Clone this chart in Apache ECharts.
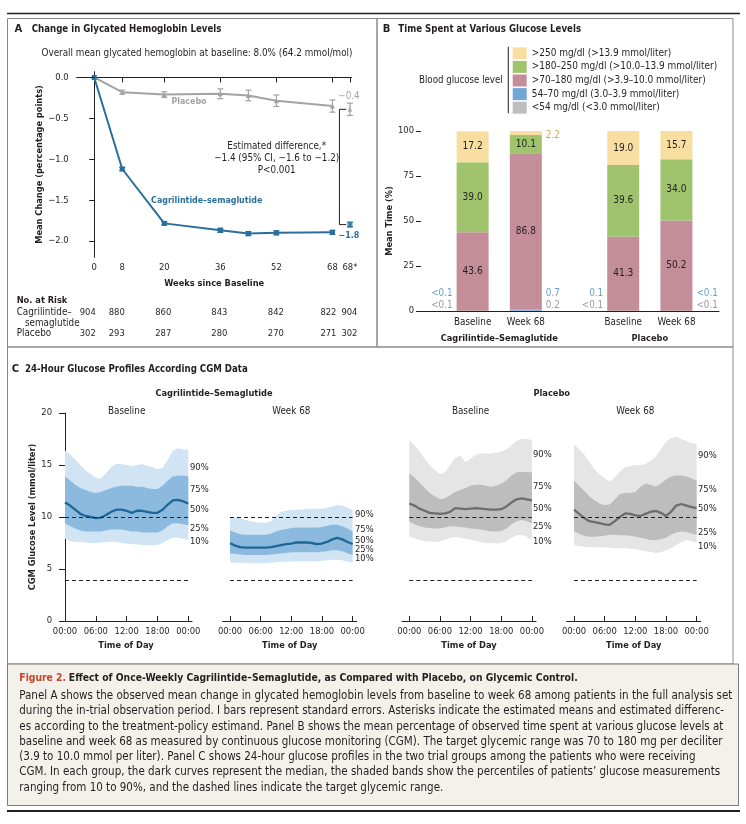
<!DOCTYPE html>
<html><head><meta charset="utf-8">
<script src="https://cdn.jsdelivr.net/npm/echarts@6/dist/echarts.min.js"></script>
<style>html,body{margin:0;padding:0;background:#fff;}#c{width:746px;height:824px;}</style>
</head><body><div id="c"></div>
<script>
// ---------------- Panel A data ----------------
const weeks = [0, 8, 20, 36, 44, 52, 68];
const weekTicks = [0, 8, 20, 36, 52, 68, 73];
const weekTickLabels = ['0', '8', '20', '36', '52', '68', '68*'];
const estWeek = 73;
const placeboMean = [0, -0.18, -0.21, -0.20, -0.22, -0.285, -0.35];
const placeboSE = [0, 0.025, 0.035, 0.06, 0.065, 0.07, 0.075];
const cagMean = [0, -1.12, -1.785, -1.87, -1.91, -1.90, -1.895];
const cagSE = [0, 0.02, 0.02, 0.025, 0.025, 0.025, 0.025];
const placeboEst = -0.39, placeboEstSE = 0.075;
const cagEst = -1.80, cagEstSE = 0.03;
const riskCag = [904, 880, 860, 843, 842, 822, 904];
const riskPlacebo = [302, 293, 287, 280, 270, 271, 302];

// ---------------- Panel B data ----------------
const barCats = ['Baseline', 'Week 68', 'Baseline', 'Week 68'];
const glucoseLevels = ['<54 mg/dl (<3.0 mmol/liter)', '54\u201370 mg/dl (3.0\u20133.9 mmol/liter)',
  '>70\u2013180 mg/dl (>3.9\u201310.0 mmol/liter)', '>180\u2013250 mg/dl (>10.0\u201313.9 mmol/liter)',
  '>250 mg/dl (>13.9 mmol/liter)'];
const pctBelow54 = [0.05, 0.2, 0.05, 0.05];
const pct54to70 = [0.05, 0.7, 0.1, 0.05];
const pct70to180 = [43.6, 86.8, 41.3, 50.2];
const pct180to250 = [39.0, 10.1, 39.6, 34.0];
const pctAbove250 = [17.2, 2.2, 19.0, 15.7];
const lblBelow54 = ['<0.1', '0.2', '<0.1', '<0.1'];
const lbl54to70 = ['<0.1', '0.7', '0.1', '<0.1'];

// ---------------- Panel C data (hourly, mmol/liter) ----------------
const hours = [0,1,2,3,4,5,6,7,8,9,10,11,12,13,14,15,16,17,18,19,20,21,22,23,24];
const cagBase90 = [16.4,16.0,15.5,15.0,14.5,14.1,13.8,13.7,14.2,14.8,15.1,15.1,15.0,14.9,15.0,15.1,14.9,14.8,14.6,14.7,15.5,16.4,16.6,16.5,16.5];
const cagBase75 = [13.9,13.5,13.1,12.8,12.6,12.4,12.3,12.4,12.6,12.8,12.9,13.0,13.0,13.0,12.9,12.9,12.8,12.7,12.7,13.0,13.5,13.9,14.0,14.0,13.9];
const cagBase50 = [11.4,11.1,10.7,10.3,10.1,10.0,9.9,9.95,10.2,10.5,10.7,10.7,10.6,10.4,10.6,10.6,10.5,10.4,10.4,10.7,11.2,11.6,11.65,11.5,11.3];
const cagBase25 = [9.4,9.1,8.9,8.7,8.6,8.6,8.6,8.6,8.7,8.8,8.8,8.8,8.7,8.6,8.6,8.5,8.5,8.5,8.5,8.7,9.1,9.4,9.4,9.3,9.2];
const cagBase10 = [7.9,7.7,7.6,7.6,7.55,7.5,7.5,7.55,7.6,7.65,7.6,7.5,7.45,7.4,7.35,7.3,7.3,7.25,7.3,7.5,7.8,8.0,8.0,7.9,7.8];
const cagWk90 = [10.0,9.95,9.9,9.7,9.6,9.5,9.45,9.45,9.6,10.1,10.5,10.6,10.7,10.7,10.7,10.8,10.8,10.8,10.8,10.9,11.0,11.15,11.1,10.9,10.7];
const cagWk75 = [8.7,8.5,8.35,8.3,8.3,8.3,8.3,8.3,8.4,8.6,8.75,8.85,8.95,9.0,9.0,9.0,9.0,9.0,9.05,9.15,9.25,9.25,9.1,8.9,8.6];
const cagWk50 = [7.47,7.25,7.1,7.05,7.05,7.05,7.05,7.05,7.1,7.2,7.3,7.4,7.45,7.55,7.55,7.55,7.5,7.4,7.45,7.6,7.85,8.0,7.85,7.6,7.4];
const cagWk25 = [6.5,6.45,6.4,6.35,6.35,6.35,6.35,6.35,6.4,6.45,6.5,6.55,6.6,6.6,6.6,6.6,6.6,6.6,6.65,6.7,6.8,6.8,6.7,6.5,6.35];
const cagWk10 = [5.65,5.6,5.6,5.6,5.55,5.55,5.55,5.55,5.6,5.65,5.7,5.7,5.75,5.75,5.75,5.75,5.75,5.75,5.8,5.85,5.9,5.9,5.85,5.7,5.6];
const pboBase90 = [17.4,16.9,16.3,15.6,15.0,14.5,14.1,14.3,15.0,15.7,15.9,15.3,15.6,16.0,16.1,16.1,16.1,16.2,16.3,16.5,16.9,17.3,17.5,17.5,17.4];
const pboBase75 = [14.2,13.8,13.3,12.8,12.3,12.0,11.7,11.8,12.1,12.4,12.6,12.8,13.0,13.1,13.1,13.0,12.9,13.0,13.2,13.5,14.0,14.3,14.35,14.3,14.3];
const pboBase50 = [11.3,11.1,10.8,10.6,10.4,10.35,10.3,10.35,10.5,10.85,10.8,10.75,10.8,10.85,10.8,10.75,10.7,10.7,10.75,11.0,11.4,11.7,11.8,11.7,11.6];
const pboBase25 = [9.55,9.3,9.1,9.0,8.95,8.9,8.9,9.0,9.1,9.1,9.05,9.0,8.9,8.85,8.8,8.7,8.6,8.6,8.65,8.9,9.3,9.6,9.7,9.6,9.4];
const pboBase10 = [8.1,7.95,7.8,7.7,7.65,7.6,7.65,7.8,8.0,8.1,8.0,7.9,7.8,7.7,7.6,7.5,7.5,7.45,7.5,7.7,8.0,8.25,8.3,8.1,7.8];
const pboWk90 = [17.0,16.5,16.0,15.3,14.6,14.1,13.7,13.4,13.8,14.4,14.8,14.9,15.0,15.0,15.1,15.4,15.8,16.5,17.2,17.6,17.7,17.5,17.3,17.1,17.0];
const pboWk75 = [13.5,13.0,12.5,12.0,11.6,11.3,11.15,11.2,11.7,12.2,12.3,12.3,12.4,12.9,13.2,13.1,12.9,13.2,13.6,13.9,14.0,14.0,13.9,13.7,13.5];
const pboWk50 = [10.7,10.3,9.9,9.6,9.5,9.4,9.3,9.25,9.6,10.0,10.35,10.3,10.15,10.1,10.3,10.5,10.6,10.4,10.1,10.5,11.1,11.25,11.1,10.95,10.85];
const pboWk25 = [8.6,8.4,8.2,8.1,8.1,8.15,8.2,8.3,8.3,8.25,8.25,8.2,8.1,8.0,7.9,7.8,7.8,7.85,8.0,8.3,8.5,8.6,8.55,8.4,8.3];
const pboWk10 = [7.25,7.2,7.15,7.1,7.1,7.1,7.1,7.05,7.0,7.0,7.0,6.95,6.9,6.8,6.7,6.65,6.55,6.6,6.8,7.0,7.3,7.6,7.8,7.7,7.5];
const hourTicks = [0, 6, 12, 18, 24];
const targetLow = 3.9, targetHigh = 10.0;
const pctNames = ['90%', '75%', '50%', '25%', '10%'];

// ---------------- Caption ----------------
const captionTag = 'Figure 2.';
const captionHead = 'Effect of Once-Weekly Cagrilintide\u2013Semaglutide, as Compared with Placebo, on Glycemic Control.';
const captionLines = [
 'Panel A shows the observed mean change in glycated hemoglobin levels from baseline to week 68 among patients in the full analysis set',
 'during the in-trial observation period. I bars represent standard errors. Asterisks indicate the estimated means and estimated differenc-',
 'es according to the treatment-policy estimand. Panel B shows the mean percentage of observed time spent at various glucose levels at',
 'baseline and week 68 as measured by continuous glucose monitoring (CGM). The target glycemic range was 70 to 180 mg per deciliter',
 '(3.9 to 10.0 mmol per liter). Panel C shows 24-hour glucose profiles in the two trial groups among the patients who were receiving',
 'CGM. In each group, the dark curves represent the median, the shaded bands show the percentiles of patients\u2019 glucose measurements',
 'ranging from 10 to 90%, and the dashed lines indicate the target glycemic range.'
];

// ================= rendering =================
const FF = "'Liberation Sans Narrow','DejaVu Sans Condensed','Roboto Condensed','Liberation Sans',Arial,sans-serif";
const INK = '#231f20';
const BLUE = '#2a6f9c', GREY = '#a3a3a3';
const mctx = document.createElement('canvas').getContext('2d');
function measure(t, bold, size) { mctx.font = (bold ? 'bold ' : '') + size + 'px ' + FF; return mctx.measureText(t).width; }
const subA = 'Overall mean glycated hemoglobin at baseline: 8.0% (64.2 mmol/mol)';
const kR = Math.min(1.25, Math.max(0.8, 311 / measure(subA, false, 11)));
const kB = Math.min(1.25, Math.max(0.8, 187 / measure('Change in Glycated Hemoglobin Levels', true, 12)));
const capSize = 13 * 714 / measure(captionLines[0], false, 13);
const headSize = 12.5 * 559 / measure(captionTag + ' ' + captionHead, true, 12.5);
const R = s => +(s * kR).toFixed(2), B = s => +(s * kB).toFixed(2);

function txt(text, x, y, o) {
  o = o || {};
  const al = o.align || 'left';
  return { type: 'text', x: x, y: y, silent: true, z: 20,
    style: { text: text, fill: o.fill || INK, fontSize: o.size || R(11), fontWeight: o.bold ? 'bold' : 'normal',
      fontFamily: FF, align: al, textAlign: al, verticalAlign: 'middle', textVerticalAlign: 'middle', rich: o.rich } };
}
function rect(x1, y1, x2, y2, stroke, fill, lw) {
  return { type: 'rect', silent: true, z: 1, shape: { x: x1, y: y1, width: x2 - x1, height: y2 - y1 },
    style: { stroke: stroke, fill: fill || 'transparent', lineWidth: lw || 1 } };
}
function hline(x1, y1, x2, y2, stroke, lw) {
  return { type: 'line', silent: true, z: 2, shape: { x1: x1, y1: y1, x2: x2, y2: y2 }, style: { stroke: stroke, lineWidth: lw || 1 } };
}
const axisTxt = { color: INK, fontFamily: FF, fontSize: R(10.5) };
const nameTxt = { color: INK, fontFamily: FF, fontSize: B(11.5), fontWeight: 'bold' };
const minus = v => (v < 0 ? '\u2212' : '') + Math.abs(v).toFixed(1);

// ---------- grids ----------
const grids = [
  { left: 76.7, top: 71.7, width: 275, height: 185.6 },          // A
  { left: 421, top: 131, width: 298, height: 180 },               // B
  { left: 60, top: 413, width: 132, height: 208 },                 // C1
  { left: 222.7, top: 413, width: 134, height: 208 },              // C2
  { left: 402, top: 413, width: 134, height: 208 },                // C3
  { left: 566.7, top: 413, width: 134, height: 208 }               // C4
].map(g => Object.assign({ outerBoundsMode: 'none', containLabel: false, show: false }, g));

const barPos = barCats.map((_, i) => i + 1 + (i >= 2 ? 0.83 : 0));
const xAxes = [
  { gridIndex: 0, type: 'value', min: -5, max: 73.5, splitLine: { show: false },
    axisLine: { lineStyle: { color: INK, width: 1 } },
    axisTick: { customValues: weekTicks, length: 5, lineStyle: { color: INK } },
    axisLabel: Object.assign({ customValues: weekTicks, margin: 6, formatter: v => weekTickLabels[weekTicks.indexOf(v)] }, axisTxt),
    name: 'Weeks since Baseline', nameLocation: 'middle', nameGap: 22, nameTextStyle: nameTxt },
  { gridIndex: 1, type: 'value', min: 0.03, max: 5.63, splitLine: { show: false },
    axisLine: { lineStyle: { color: INK, width: 1 } }, axisTick: { show: false },
    axisLabel: Object.assign({ customValues: barPos, margin: 6, formatter: v => barCats[barPos.indexOf(v)] }, axisTxt, { fontSize: R(11) }) }
];
const yAxes = [
  { gridIndex: 0, type: 'value', min: -2.2, max: 0.07, splitLine: { show: false },
    axisLine: { lineStyle: { color: INK } },
    axisTick: { customValues: [0, -0.5, -1, -1.5, -2], length: 5, lineStyle: { color: INK } },
    axisLabel: Object.assign({ customValues: [0, -0.5, -1, -1.5, -2], margin: 8, formatter: minus }, axisTxt),
    name: 'Mean Change (percentage points)', nameLocation: 'middle', nameGap: 32, nameTextStyle: nameTxt },
  { gridIndex: 1, type: 'value', min: 0, max: 100, interval: 25, splitLine: { show: false },
    axisLine: { show: false }, axisTick: { show: true, length: 5, lineStyle: { color: INK } },
    axisLabel: Object.assign({ margin: 7 }, axisTxt),
    name: 'Mean Time (%)', nameLocation: 'middle', nameGap: 26, nameTextStyle: nameTxt }
];
const hourLbl = v => (v % 24 === 0 ? '00' : String(v).padStart(2, '0')) + ':00';
[[-0.97, 24.72], [-1.43, 24.8], [-1.43, 24.8], [-1.43, 24.8]].forEach((mm, k) => {
  xAxes.push({ gridIndex: 2 + k, type: 'value', min: mm[0], max: mm[1], splitLine: { show: false },
    axisLine: { lineStyle: { color: INK } },
    axisTick: { customValues: hourTicks, inside: true, length: 5, lineStyle: { color: INK } },
    axisLabel: Object.assign({ customValues: hourTicks, margin: 6, formatter: hourLbl }, axisTxt),
    name: 'Time of Day', nameLocation: 'middle', nameGap: 20, nameTextStyle: nameTxt });
  yAxes.push(k === 0 ? { gridIndex: 2, type: 'value', min: 0, max: 20, interval: 5, splitLine: { show: false },
    axisLine: { lineStyle: { color: INK } }, axisTick: { length: 6, lineStyle: { color: INK } },
    axisLabel: Object.assign({ margin: 8 }, axisTxt),
    name: 'CGM Glucose Level (mmol/liter)', nameLocation: 'middle', nameGap: 22, nameTextStyle: nameTxt }
    : { gridIndex: 2 + k, type: 'value', min: 0, max: 20, show: false });
});

// ---------- series ----------
const series = [];
function errBar(color, rows) {
  return { type: 'custom', xAxisIndex: 0, yAxisIndex: 0, silent: true, z: 4, encode: { x: 0, y: [1, 2] }, data: rows,
    renderItem: (p, api) => {
      const x = api.value(0), a = api.coord([x, api.value(1)]), b = api.coord([x, api.value(2)]);
      const st = { stroke: color, lineWidth: 1.2 };
      return { type: 'group', children: [
        { type: 'line', shape: { x1: a[0], y1: a[1], x2: b[0], y2: b[1] }, style: st },
        { type: 'line', shape: { x1: a[0] - 3, y1: a[1], x2: a[0] + 3, y2: a[1] }, style: st },
        { type: 'line', shape: { x1: b[0] - 3, y1: b[1], x2: b[0] + 3, y2: b[1] }, style: st }] };
    } };
}
const pRows = weeks.map((w, i) => [w, placeboMean[i] - placeboSE[i], placeboMean[i] + placeboSE[i]]).slice(1)
  .concat([[estWeek, placeboEst - placeboEstSE, placeboEst + placeboEstSE]]);
const cRows = weeks.map((w, i) => [w, cagMean[i] - cagSE[i], cagMean[i] + cagSE[i]]).slice(1)
  .concat([[estWeek, cagEst - cagEstSE, cagEst + cagEstSE]]);
series.push({ type: 'line', name: 'Placebo', xAxisIndex: 0, yAxisIndex: 0, data: weeks.map((w, i) => [w, placeboMean[i]]),
  color: GREY, lineStyle: { width: 2, color: GREY }, symbol: 'triangle', symbolSize: 5, itemStyle: { color: GREY }, silent: true, z: 3,
  markLine: { silent: true, symbol: 'none', label: { show: false }, data: [{ yAxis: 0 }], lineStyle: { type: [4, 3], color: INK, width: 1 } } });
series.push({ type: 'line', name: 'Cag', xAxisIndex: 0, yAxisIndex: 0, data: weeks.map((w, i) => [w, cagMean[i]]),
  color: BLUE, lineStyle: { width: 2, color: BLUE }, symbol: 'rect', symbolSize: 5, itemStyle: { color: BLUE }, silent: true, z: 3 });
series.push({ type: 'scatter', xAxisIndex: 0, yAxisIndex: 0, data: [[estWeek, placeboEst]], symbol: 'triangle', symbolSize: 5, itemStyle: { color: GREY }, silent: true });
series.push({ type: 'scatter', xAxisIndex: 0, yAxisIndex: 0, data: [[estWeek, cagEst]], symbol: 'rect', symbolSize: 5, itemStyle: { color: BLUE }, silent: true });
series.push(errBar(GREY, pRows));
series.push(errBar(BLUE, cRows));
// bracket for the estimated difference
series.push({ type: 'custom', xAxisIndex: 0, yAxisIndex: 0, silent: true, data: [[70, placeboEst, cagEst]], encode: { x: 0, y: [1, 2] },
  renderItem: (p, api) => {
    const x = api.value(0), a = api.coord([x, api.value(1)]), b = api.coord([x, api.value(2)]);
    const tip = api.coord([x + 1.9, 0])[0];
    return { type: 'polyline', shape: { points: [[tip, a[1]], a, b, [tip, b[1]]] }, style: { stroke: INK, lineWidth: 1, fill: 'none' } };
  } });

// Panel B stacked bars (cumulative bounds computed here, drawn through the axes)
const barColors = ['#bebebe', '#6fa7d6', '#c48d9a', '#a0c46e', '#f8dfa1'];
const levels = [pctBelow54, pct54to70, pct70to180, pct180to250, pctAbove250];
levels.forEach((arr, k) => {
  const rows = barPos.map((x, i) => {
    let lo = 0; for (let j = 0; j < k; j++) lo += levels[j][i];
    return [x, lo, lo + arr[i], arr[i]];
  });
  series.push({ type: 'custom', name: glucoseLevels[k], xAxisIndex: 1, yAxisIndex: 1, silent: true,
    itemStyle: { color: barColors[k] }, encode: { x: 0, y: [1, 2] }, data: rows,
    renderItem: (p, api) => {
      const x = api.value(0), a = api.coord([x, api.value(1)]), b = api.coord([x, api.value(2)]), w = 32, v = api.value(3);
      const kids = [{ type: 'rect', shape: { x: a[0] - w / 2, y: b[1], width: w, height: Math.max(0, a[1] - b[1]) },
        style: { fill: barColors[k] } }];
      if (v >= 5) kids.push({ type: 'text', x: a[0], y: (a[1] + b[1]) / 2,
        style: { text: v.toFixed(1), fill: INK, fontSize: R(11.3), fontFamily: FF, align: 'center', textAlign: 'center',
          verticalAlign: 'middle', textVerticalAlign: 'middle' } });
      return { type: 'group', children: kids };
    } });
});

// Panel C percentile bands
const cgm = [
  { d: [cagBase10, cagBase25, cagBase50, cagBase75, cagBase90], light: '#d1e4f4', dark: '#8cbade', line: '#1d6797' },
  { d: [cagWk10, cagWk25, cagWk50, cagWk75, cagWk90], light: '#d1e4f4', dark: '#8cbade', line: '#1d6797' },
  { d: [pboBase10, pboBase25, pboBase50, pboBase75, pboBase90], light: '#e5e5e5', dark: '#bdbdbd', line: '#6d6d6d' },
  { d: [pboWk10, pboWk25, pboWk50, pboWk75, pboWk90], light: '#e5e5e5', dark: '#bdbdbd', line: '#6d6d6d' }
];
function band(ax, lo, hi, color) {
  return { type: 'custom', xAxisIndex: ax, yAxisIndex: ax, silent: true, z: 2, data: [[0, 0]], encode: { x: 0, y: 1 },
    renderItem: (p, api) => {
      const top = hours.map((h, i) => api.coord([h, hi[i]]));
      const bot = hours.map((h, i) => api.coord([h, lo[i]])).reverse();
      return { type: 'polygon', shape: { points: top.concat(bot) }, style: { fill: color } };
    } };
}
cgm.forEach((P, k) => {
  const ax = 2 + k;
  series.push(band(ax, P.d[0], P.d[4], P.light));
  series.push(band(ax, P.d[1], P.d[3], P.dark));
  series.push({ type: 'line', xAxisIndex: ax, yAxisIndex: ax, symbol: 'none', silent: true, z: 3,
    data: hours.map((h, i) => [h, P.d[2][i]]), lineStyle: { width: 2.3, color: P.line }, color: P.line,
    markLine: { silent: true, symbol: 'none', label: { show: false }, lineStyle: { type: [4, 3], color: INK, width: 1 },
      data: [[{ coord: [0, targetHigh] }, { coord: [24, targetHigh] }], [{ coord: [0, targetLow] }, { coord: [24, targetLow] }]] } });
});

const chart = echarts.init(document.getElementById('c'), null, { renderer: 'canvas' });
chart.setOption({
  animation: false, backgroundColor: '#fff', grid: grids, xAxis: xAxes, yAxis: yAxes, series: series,
  legend: { show: true, orient: 'vertical', left: 512.7, top: 47.3, itemWidth: 14, itemHeight: 12, itemGap: 1.6,
    icon: 'rect', selectedMode: false, padding: 0, itemStyle: { borderWidth: 0 },
    data: glucoseLevels.slice().reverse().map((n, i) => ({ name: n, itemStyle: { color: barColors[4 - i] } })),
    textStyle: { color: INK, fontFamily: FF, fontSize: R(11.2) } }
});

// ---------- graphic (frame, titles, annotations) ----------
const G = [];
G.push(hline(7, 13.5, 740, 13.5, '#231f20', 1.6));
G.push(rect(7.5, 18.5, 377, 347, '#8a8a8a'));
G.push(rect(377, 18.5, 733, 347, '#8a8a8a'));
G.push(rect(7.5, 347, 733, 664, '#8a8a8a'));
G.push(rect(7.5, 664, 738.5, 805.5, '#7a7a7a', '#f4f1eb'));
G.push(hline(7, 811, 740, 811, '#231f20', 1.8));

// Panel A text
G.push(txt('A', 14.5, 29.5, { bold: true, size: B(14) }));
G.push(txt('Change in Glycated Hemoglobin Levels', 31.7, 29.5, { bold: true, size: B(12) }));
G.push(txt(subA, 197, 53.5, { align: 'center', size: R(11) }));
G.push(txt('Placebo', 189, 102, { align: 'center', bold: true, fill: GREY, size: B(11) }));
G.push(txt('Cagrilintide\u2013semaglutide', 206.7, 200.5, { align: 'center', bold: true, fill: BLUE, size: B(11) }));
G.push(txt('Estimated difference,*', 276.7, 146, { align: 'center', size: R(11) }));
G.push(txt('\u22121.4 (95% CI, \u22121.6 to \u22121.2)', 276.7, 158, { align: 'center', size: R(11) }));
G.push(txt('P<0.001', 276.7, 170, { align: 'center', size: R(11) }));
const pE = chart.convertToPixel({ gridIndex: 0 }, [estWeek, placeboEst]);
const cE = chart.convertToPixel({ gridIndex: 0 }, [estWeek, cagEst]);
G.push(txt(minus(Math.round(placeboEst * 10) / 10), pE[0] - 1, pE[1] - 13, { align: 'center', fill: GREY, size: R(11) }));
G.push(txt(minus(Math.round(cagEst * 10) / 10), cE[0] - 1, cE[1] + 11.5, { align: 'center', bold: true, fill: BLUE, size: B(11) }));
G.push(txt('No. at Risk', 16.7, 300.7, { bold: true, size: B(11.5) }));
G.push(txt('Cagrilintide\u2013', 16.7, 312.7, { size: R(11) }));
G.push(txt('semaglutide', 25, 323.3, { size: R(11) }));
G.push(txt('Placebo', 16.7, 333.3, { size: R(11) }));
const riskShift = [-6.5, -5.5, -1, -1, -0.5, -4, -0.5];
weekTicks.forEach((w, i) => {
  const px = chart.convertToPixel({ gridIndex: 0 }, [w, 0])[0] + riskShift[i];
  G.push(txt(String(riskCag[i]), px, 312.7, { align: 'center', size: R(10.5) }));
  G.push(txt(String(riskPlacebo[i]), px, 333.3, { align: 'center', size: R(10.5) }));
});

// Panel B text
G.push(txt('B', 382.7, 29.5, { bold: true, size: B(14) }));
G.push(txt('Time Spent at Various Glucose Levels', 398.3, 29.5, { bold: true, size: B(12) }));
G.push(txt('Blood glucose level', 502.7, 80.7, { align: 'right', size: R(10.8) }));
G.push(hline(508.3, 46.7, 508.3, 113.3, INK, 1));
const bx = barPos.map(x => chart.convertToPixel({ gridIndex: 1 }, [x, 0])[0]);
G.push(txt('Cagrilintide\u2013Semaglutide', (bx[0] + bx[1]) / 2, 338.5, { align: 'center', bold: true, size: B(11.5) }));
G.push(txt('Placebo', (bx[2] + bx[3]) / 2, 338.5, { align: 'center', bold: true, size: B(11.5) }));
const sideRight = [false, true, false, true];
barCats.forEach((c, i) => {
  const right = sideRight[i];
  const x = right ? bx[i] + 16 + 4 : bx[i] - 16 - 4;
  const yBlue = chart.convertToPixel({ gridIndex: 1 }, [barPos[i], 9.8])[1];
  const yGrey = chart.convertToPixel({ gridIndex: 1 }, [barPos[i], 2.9])[1];
  G.push(txt(lbl54to70[i], x, yBlue, { align: right ? 'left' : 'right', fill: '#6a9fcc', size: R(11) }));
  G.push(txt(lblBelow54[i], x, yGrey, { align: right ? 'left' : 'right', fill: '#9c9c9c', size: R(11) }));
});
const yTop = chart.convertToPixel({ gridIndex: 1 }, [barPos[1], 97.8])[1];
G.push(txt(pctAbove250[1].toFixed(1), bx[1] + 20, yTop, { fill: '#d9a53e', size: R(11) }));

// Panel C text
G.push(txt('C', 11.7, 369.3, { bold: true, size: B(14) }));
G.push(txt('24-Hour Glucose Profiles According CGM Data', 25, 369.3, { bold: true, size: B(12) }));
G.push(txt('Cagrilintide\u2013Semaglutide', 214, 393.3, { align: 'center', bold: true, size: B(11.5) }));
G.push(txt('Placebo', 551.7, 393.3, { align: 'center', bold: true, size: B(11.5) }));
const panelSub = ['Baseline', 'Week 68', 'Baseline', 'Week 68'];
const pctX = [190, 355, 533, 698];
const pctY = [[468, 490, 510, 529, 542], [515, 530, 541, 550, 559], [455, 487, 509, 527, 542], [456, 490, 509, 533, 547]];
panelSub.forEach((s, k) => {
  const a = chart.convertToPixel({ gridIndex: 2 + k }, [0, 0]), b = chart.convertToPixel({ gridIndex: 2 + k }, [24, 0]);
  G.push(txt(s, (a[0] + b[0]) / 2, 411.7, { align: 'center', size: R(11) }));
  pctNames.forEach((n, j) => G.push(txt(n, pctX[k], pctY[k][j], { size: R(10.5) })));
});

// Caption
G.push(txt('{r|' + captionTag + '} {b|' + captionHead + '}', 19.3, 678, { rich: {
  r: { fill: '#c4442b', fontWeight: 'bold', fontSize: headSize, fontFamily: FF },
  b: { fill: INK, fontWeight: 'bold', fontSize: headSize, fontFamily: FF } } }));
captionLines.forEach((l, i) => G.push(txt(l, 19.3, 696 + i * 15.28, { size: capSize })));

chart.setOption({ graphic: G });
</script></body></html>
